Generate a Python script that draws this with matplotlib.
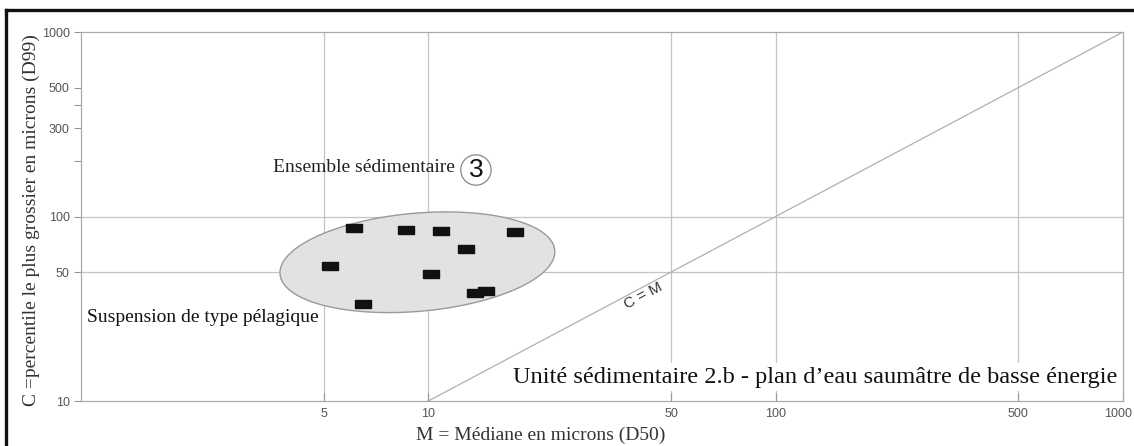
import numpy as np
import matplotlib
matplotlib.use("Agg")
import matplotlib.pyplot as plt
from matplotlib.lines import Line2D
from matplotlib.ticker import FixedLocator, FixedFormatter, NullFormatter
from matplotlib.transforms import ScaledTranslation

# ---- data ----
m_d50 = [6.1, 8.6, 10.9, 17.8, 12.8, 5.2, 10.2, 13.6, 14.7, 6.5]
c_d99 = [87, 85, 83, 82, 67, 54, 48.6, 38.6, 39.5, 33.4]

x_ticks = [5, 10, 50, 100, 500, 1000]
y_ticks = [10, 50, 100, 300, 500, 1000]
y_minor = [200, 400]
x_grid = [5, 10, 50, 100, 500]
y_grid = [50, 100]
cm_line = [10, 1000]

# envelope of the group (log-space centre, half axes in decades, tilt)
ell_center = (9.3, 56.5)
ell_half_dec = (0.397, 0.266)
ell_tilt = 5.0

SERIF = ["Liberation Serif", "DejaVu Serif"]
SANS = ["Liberation Sans", "DejaVu Sans"]
GRID = "#c4c4c4"
TICK = "#555555"

W, H = 1134, 446
fig = plt.figure(figsize=(W / 100, H / 100), dpi=100, facecolor="white")
ax = fig.add_axes([81 / W, 45 / H, 1042 / W, 369 / H])
ax.set_xscale("log")
ax.set_yscale("log")
ax.set_xlim(1, 1000)
ax.set_ylim(10, 1000)

for sp in ax.spines.values():
    sp.set_color("#aaaaaa")
    sp.set_linewidth(0.9)

for v in x_grid:
    ax.axvline(v, color=GRID, lw=0.9, zorder=0)
for v in y_grid:
    ax.axhline(v, color=GRID, lw=0.9, zorder=0)

# ticks
ax.xaxis.set_major_locator(FixedLocator(x_ticks))
ax.xaxis.set_major_formatter(FixedFormatter([str(t) for t in x_ticks]))
ax.xaxis.set_minor_locator(FixedLocator([]))
ax.yaxis.set_major_locator(FixedLocator(y_ticks))
ax.yaxis.set_major_formatter(FixedFormatter([str(t) for t in y_ticks]))
ax.yaxis.set_minor_locator(FixedLocator(y_minor))
ax.yaxis.set_minor_formatter(NullFormatter())
ax.tick_params(axis="x", direction="in", length=6, width=0.8, color="#999999",
               labelsize=9, labelcolor=TICK, pad=5)
ax.tick_params(axis="y", which="both", direction="out", length=5, width=0.8,
               color="#999999", labelsize=9, labelcolor=TICK, pad=3)
for lab in ax.get_xticklabels() + ax.get_yticklabels():
    lab.set_family(SANS)
# last x label sits against the right edge: nudge it left a little
last = ax.get_xticklabels()[-1]
last.set_transform(last.get_transform() + ScaledTranslation(-5 / 100, 0, fig.dpi_scale_trans))

# C = M line
ax.plot(cm_line, cm_line, color="#b0b0b0", lw=0.9, zorder=1)
p0, p1 = ax.transData.transform([(cm_line[0], cm_line[0]), (cm_line[1], cm_line[1])])
ang = np.degrees(np.arctan2(p1[1] - p0[1], p1[0] - p0[0]))
ax.text(41.5, 37.0, "C = M", rotation=ang, rotation_mode="anchor", ha="center",
        va="center", fontsize=11, color="#333333", family=SANS, zorder=2)

# envelope, built in display space then mapped back to data
c_disp = ax.transData.transform(ell_center)
a_px = ax.transData.transform((ell_center[0] * 10 ** ell_half_dec[0], ell_center[1]))[0] - c_disp[0]
b_px = ax.transData.transform((ell_center[0], ell_center[1] * 10 ** ell_half_dec[1]))[1] - c_disp[1]
t = np.linspace(0, 2 * np.pi, 200)
th = np.radians(ell_tilt)
ex = a_px * np.cos(t) * np.cos(th) - b_px * np.sin(t) * np.sin(th)
ey = a_px * np.cos(t) * np.sin(th) + b_px * np.sin(t) * np.cos(th)
ell_data = ax.transData.inverted().transform(np.column_stack([ex, ey]) + c_disp)
ax.fill(ell_data[:, 0], ell_data[:, 1], facecolor="#e2e2e2", edgecolor="#9a9a9a",
        lw=1.0, zorder=2)

rect = [(-1, -0.5), (1, -0.5), (1, 0.5), (-1, 0.5), (-1, -0.5)]
ax.plot(m_d50, c_d99, ls="none", marker=rect, markersize=12, color="#111111", zorder=3)

# annotations
ax.text(0.184, 0.634, "Ensemble sédimentaire", transform=ax.transAxes, ha="left",
        va="center", fontsize=14, family=SERIF, color="#222222")
ax.text(0.379, 0.626, "3", transform=ax.transAxes, ha="center", va="center",
        fontsize=19, family=SANS, color="#111111",
        bbox=dict(boxstyle="circle,pad=0.12", fc="white", ec="#888888", lw=0.9))
ax.text(0.006, 0.225, "Suspension de type pélagique", transform=ax.transAxes,
        ha="left", va="center", fontsize=14, family=SERIF, color="#111111")
ax.text(0.995, 0.065, "Unité sédimentaire 2.b - plan d\u2019eau saumâtre de basse énergie",
        transform=ax.transAxes, ha="right", va="center", fontsize=17.6, family=SERIF,
        color="#111111", bbox=dict(boxstyle="square,pad=0.15", fc="white", ec="none"),
        zorder=4)

ax.set_xlabel("M = Médiane en microns (D50)", family=SERIF, fontsize=14,
              color="#333333")
ax.xaxis.set_label_coords(0.441, -0.07)
ax.set_ylabel("C =percentile le plus grossier en microns (D99)", family=SERIF,
              fontsize=14, color="#333333")
ax.yaxis.set_label_coords(-0.0395, 0.49)

# black frame of the original page (top and left edges)
fig.add_artist(Line2D([5.5 / W, 1], [1 - 9.5 / H, 1 - 9.5 / H], color="#111111",
                      lw=2.4, transform=fig.transFigure))
fig.add_artist(Line2D([5.5 / W, 5.5 / W], [0, 1 - 9.5 / H], color="#111111",
                      lw=2.4, transform=fig.transFigure))

fig.savefig("out.png", dpi=100, facecolor="white")
